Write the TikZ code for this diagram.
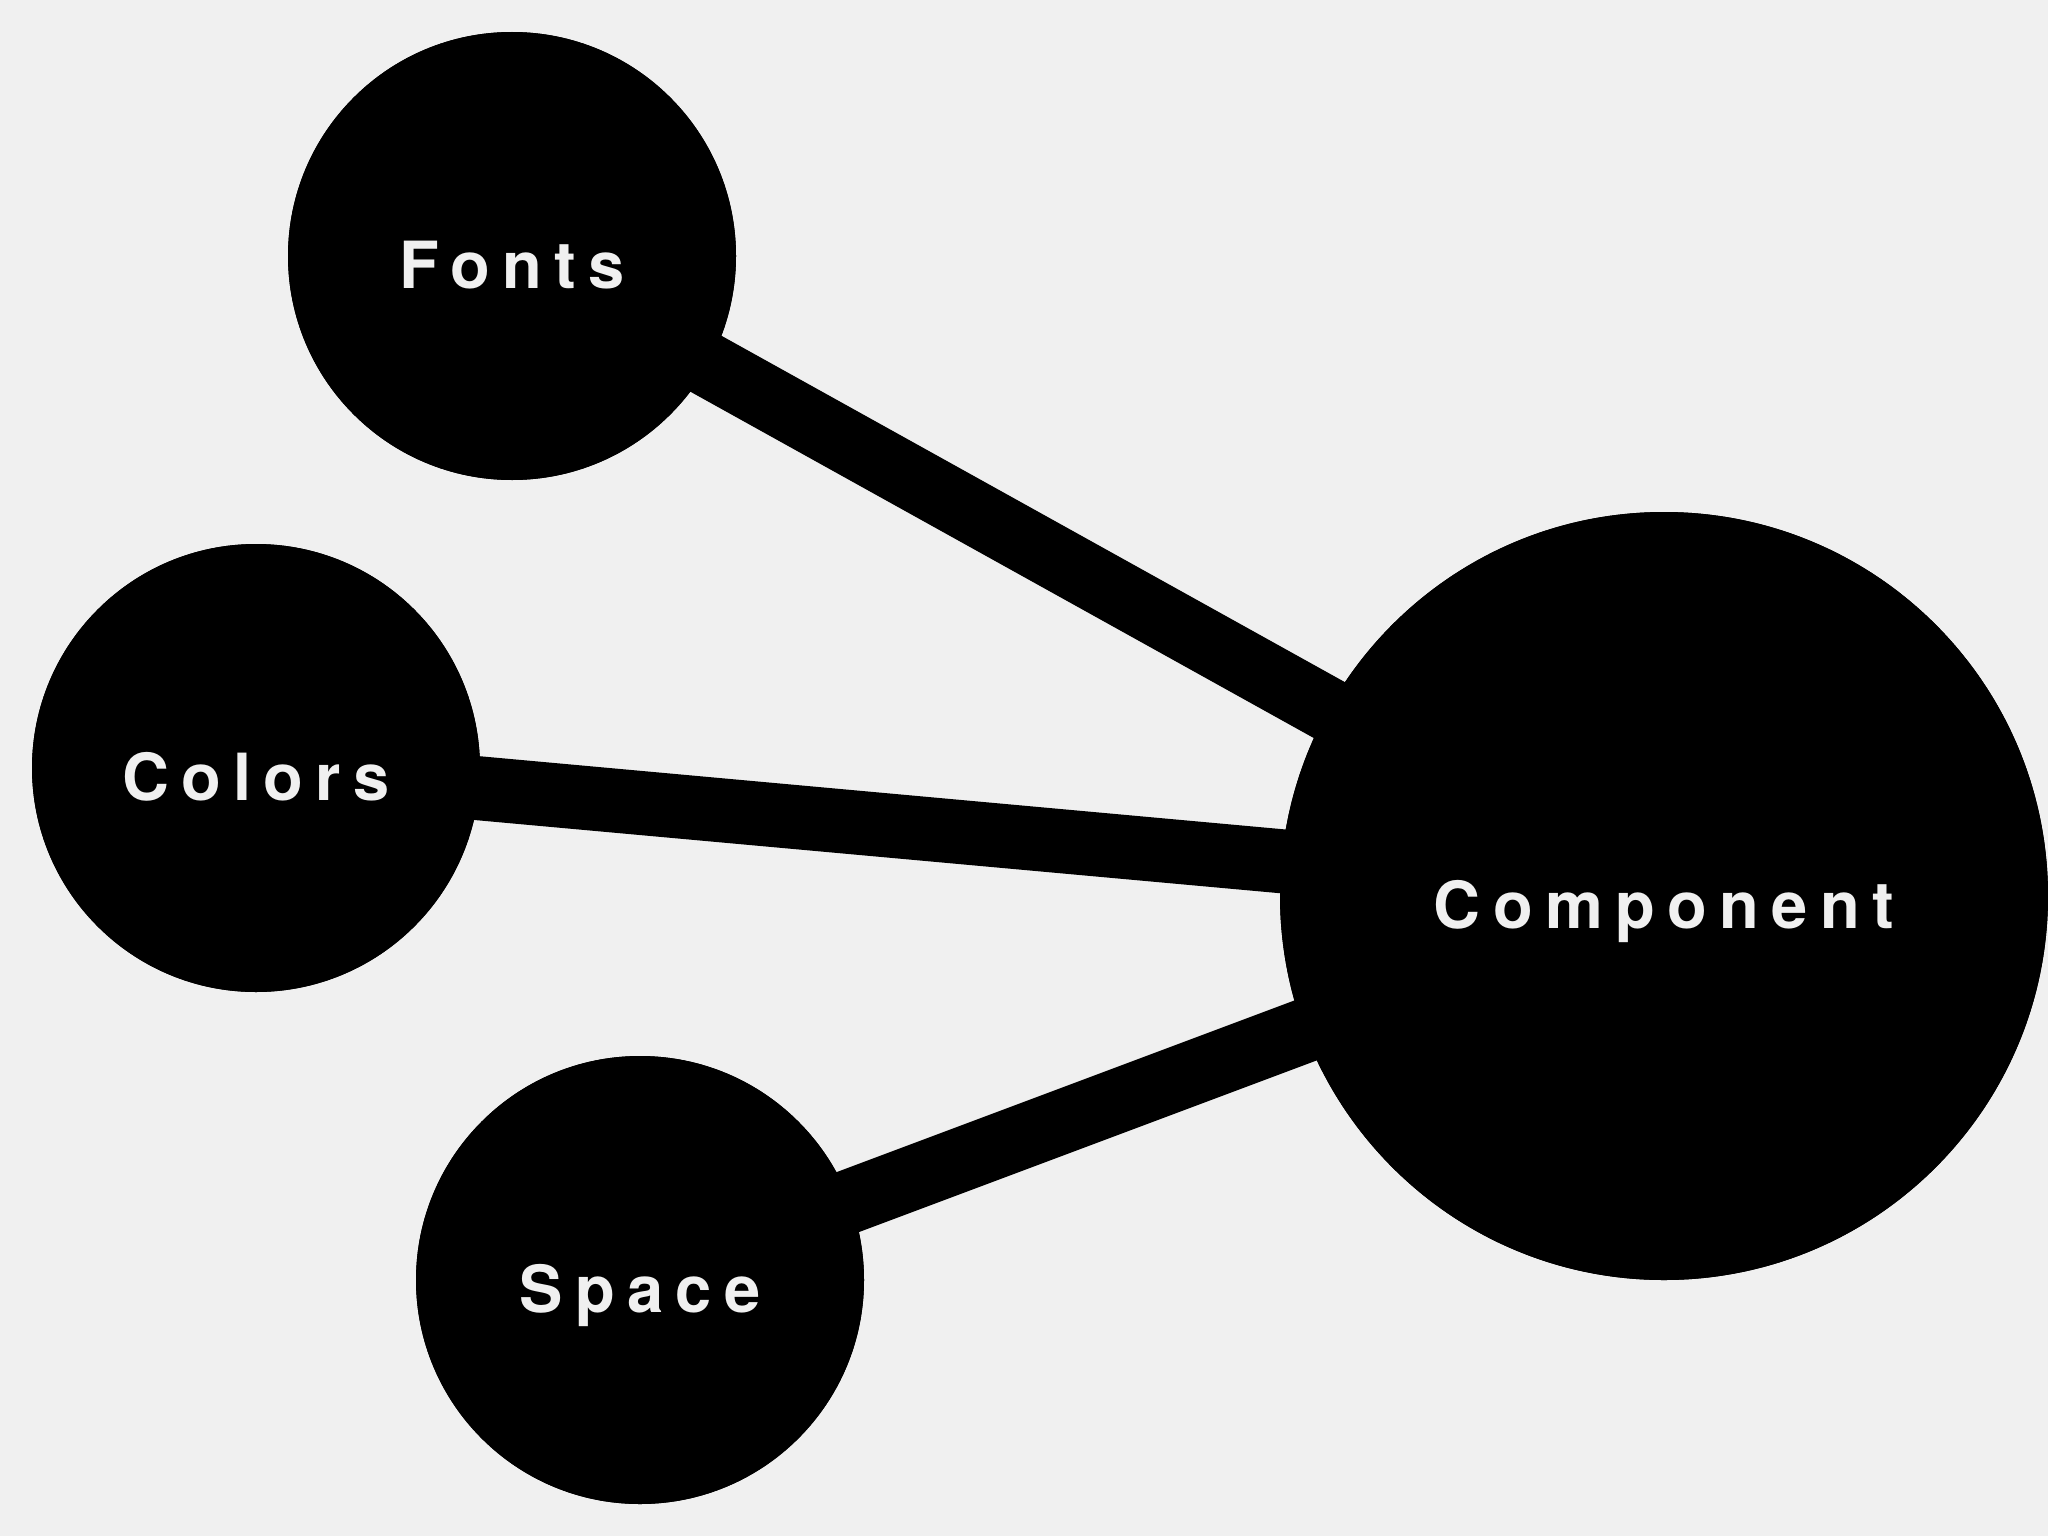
\documentclass[tikz,border=0pt]{standalone}
\usepackage{fontspec}
\setmainfont{TeX Gyre Heros}
\newfontfamily\lblfont[LetterSpace=19]{TeX Gyre Heros}
\definecolor{bgc}{HTML}{F0F0F0}
\begin{document}
\begin{tikzpicture}[x=0.5pt,y=-0.5pt,
  bubble/.style={circle,fill=black,draw=none,inner sep=0pt},
  small/.style={bubble,minimum size=224pt},
  big/.style={bubble,minimum size=384pt},
  lbl/.style={text=bgc,font=\lblfont\bfseries\fontsize{32.5}{36}\selectfont,inner sep=0pt,text height=23.4pt,text depth=0pt},
  link/.style={line width=32pt,black}]
\fill[bgc] (0,0) rectangle (2048,1536);
\useasboundingbox (0,0) rectangle (2048,1536);
\node[small] (fonts) at (512,256) {};
\node[small] (colors) at (256,768) {};
\node[small] (space) at (640,1280) {};
\node[big] (comp) at (1664,896) {};
\draw[link] (fonts.center) -- (comp.center);
\draw[link] (colors.center) -- (comp.center);
\draw[link] (space.center) -- (comp.center);
\node[small] at (fonts.center) {};
\node[small] at (colors.center) {};
\node[small] at (space.center) {};
\node[big] at (comp.center) {};
\node[lbl] (tfonts) at ([yshift=-4.5pt]fonts.center) {Fonts};
\node[lbl] (tcolors) at ([yshift=-4.5pt]colors.center) {Colors};
\node[lbl] (tspace) at ([yshift=-4.5pt]space.center) {Space};
\node[lbl] (tcomp) at ([yshift=-4.5pt]comp.center) {Component};
\end{tikzpicture}
\end{document}
